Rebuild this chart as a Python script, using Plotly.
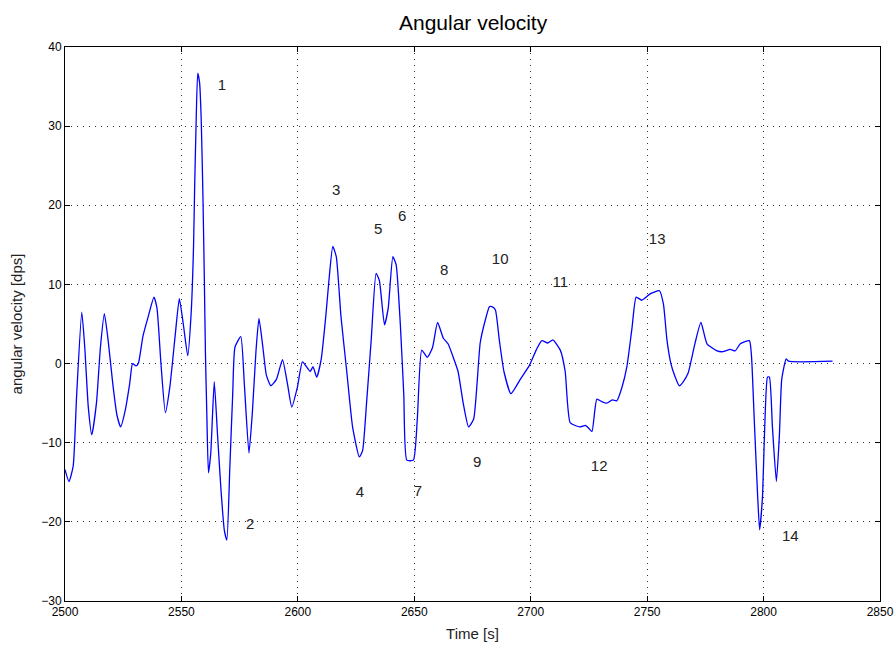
import plotly.graph_objects as go

# Time samples [s] and angular velocity [dps]
time_s = [2500.0, 2501.7, 2503.5, 2505.0, 2507.2, 2508.5, 2510.0, 2511.5, 2513.5, 2515.2, 2516.9,
          2518.5, 2520.5, 2522.3, 2523.9, 2525.8, 2527.8, 2529.0, 2530.5, 2531.5, 2533.5,
          2535.8, 2538.2, 2539.5, 2541.2, 2543.1, 2545.0, 2547.3, 2549.1, 2550.8, 2552.7,
          2554.2, 2555.2, 2555.7, 2556.2, 2557.0, 2557.8, 2558.5, 2559.2, 2559.8, 2560.3,
          2560.9, 2561.6, 2562.6, 2564.1, 2565.5, 2567.0, 2568.4, 2569.5, 2570.8, 2572.0,
          2573.0, 2575.5, 2577.0, 2579.0, 2580.5, 2582.0, 2583.3, 2585.0, 2586.5, 2588.4,
          2590.8, 2593.4, 2595.5, 2597.4, 2599.8, 2602.0, 2605.3, 2606.5, 2608.1, 2610.0,
          2612.0, 2613.5, 2615.0, 2616.5, 2618.5, 2621.0, 2623.5, 2626.4, 2627.8, 2629.5,
          2631.5, 2633.6, 2635.0, 2637.2, 2638.8, 2640.8, 2642.2, 2644.0, 2645.5, 2646.8,
          2649.6, 2651.3, 2653.2, 2655.6, 2657.8, 2660.0, 2662.5, 2664.5, 2666.6, 2668.8,
          2671.0, 2673.3, 2675.5, 2678.3, 2680.5, 2682.3, 2683.3, 2684.8, 2686.5, 2688.5,
          2691.5, 2695.5, 2699.5, 2702.5, 2704.8, 2707.3, 2709.5, 2712.7, 2714.8, 2717.0,
          2721.2, 2723.5, 2725.0, 2726.3, 2728.4, 2730.5, 2732.7, 2735.0, 2737.0, 2739.2,
          2741.3, 2743.5, 2745.3, 2747.7, 2751.3, 2755.3, 2757.0, 2758.5, 2760.2, 2761.8,
          2763.8, 2765.5, 2767.6, 2770.5, 2773.1, 2775.7, 2780.0, 2782.5, 2785.7, 2787.8,
          2790.0, 2793.9, 2794.8, 2796.0, 2797.4, 2798.3, 2799.5, 2800.5, 2801.7, 2802.5,
          2803.8, 2805.5, 2806.8, 2807.8, 2809.7, 2810.7, 2829.6]
ang_vel = [-13.4, -14.9, -13.0, -4.0, 6.5, 2.0, -5.5, -9.0, -5.0, 2.0, 6.3,
           3.0, -2.5, -6.5, -8.0, -6.0, -2.5, 0.0, -0.3, 0.0, 3.5,
           6.0, 8.4, 7.0, 0.0, -6.2, -3.0, 3.5, 8.2, 5.0, 1.0,
           6.5, 14.8, 22.6, 29.1, 36.7, 35.5, 30.8, 21.7, 11.4, 1.5,
           -6.3, -13.8, -11.3, -2.3, -9.0, -16.0, -21.0, -22.3, -13.0, -4.0,
           2.1, 3.4, -2.5, -11.3, -6.0, 1.5, 5.7, 2.0, -1.5, -2.8,
           -2.0, 0.5, -2.5, -5.5, -3.0, 0.2, -1.0, -0.4, -1.7, 0.5,
           6.0, 11.0, 14.8, 13.5, 6.0, -1.0, -8.0, -11.8, -11.0, -5.0,
           3.0, 11.4, 10.5, 4.9, 7.0, 13.5, 12.5, 5.0, -4.0, -12.2,
           -12.2, -7.0, 1.7, 0.8, 2.0, 5.2, 3.2, 2.5, 0.9, -1.0,
           -5.0, -8.0, -7.0, 2.6, 5.5, 7.2, 7.2, 6.8, 3.0, -1.0,
           -3.8, -2.0, -0.2, 1.8, 2.9, 2.6, 3.0, 1.7, -1.0, -7.5,
           -8.0, -7.8, -8.2, -8.6, -4.5, -4.8, -5.0, -4.6, -4.7, -3.0,
           -0.4, 4.5, 8.4, 8.0, 8.8, 9.2, 7.5, 3.0, 0.0, -1.5,
           -2.8, -2.3, -1.2, 2.5, 5.2, 2.5, 1.6, 1.5, 1.8, 1.6,
           2.5, 2.9, 1.0, -7.1, -16.4, -21.0, -17.0, -8.0, -1.7, -1.7,
           -8.0, -14.9, -9.0, -2.0, 0.6, 0.3, 0.3]

# Event labels
label_text = ["1", "2", "3", "4", "5", "6", "7", "8", "9", "10", "11", "12", "13", "14"]
label_x = [2567.4, 2579.5, 2616.4, 2626.7, 2634.5, 2644.8, 2651.6, 2662.8, 2677.0, 2686.9,
           2712.7, 2729.4, 2754.3, 2811.5]
label_y = [35.1, -20.4, 21.8, -16.4, 16.9, 18.5, -16.2, 11.7, -12.6, 13.0, 10.1, -13.1, 15.6, -22.0]

x_ticks = [2500, 2550, 2600, 2650, 2700, 2750, 2800, 2850]
y_ticks = [-30, -20, -10, 0, 10, 20, 30, 40]

fig = go.Figure()
fig.add_trace(go.Scatter(x=time_s, y=ang_vel, mode="lines",
                         line=dict(color="#0000ff", width=1.3, shape="spline", smoothing=0.5),
                         showlegend=False))
fig.add_trace(go.Scatter(x=label_x, y=label_y, text=label_text, mode="text",
                         textfont=dict(family="Liberation Sans, Arial", size=15, color="#222222"),
                         showlegend=False, hoverinfo="skip"))

axis_common = dict(
    showline=True, linecolor="black", linewidth=1, mirror="ticks",
    ticks="inside", ticklen=5, tickcolor="black",
    showgrid=True, gridcolor="#333333", gridwidth=1, griddash="1px,5px",
    zeroline=False, automargin=False,
    tickfont=dict(family="Liberation Sans, Arial", size=12, color="black"),
    title_font=dict(family="Liberation Sans, Arial", size=15, color="#222222"),
)

fig.update_layout(
    width=896, height=652,
    margin=dict(l=65, r=16, t=47, b=51),
    paper_bgcolor="white", plot_bgcolor="white",
    title=dict(text="Angular velocity", x=0.528, xanchor="center", y=0.966, yanchor="middle",
               font=dict(family="Liberation Sans, Arial", size=21, color="black")),
    xaxis=dict(range=[2500, 2850], tickvals=x_ticks, title=dict(text="Time [s]", standoff=10),
               **axis_common),
    yaxis=dict(range=[-30, 40], tickvals=y_ticks, title=dict(text="angular velocity [dps]", standoff=14),
               **axis_common),
)

fig.write_html("out.html")
